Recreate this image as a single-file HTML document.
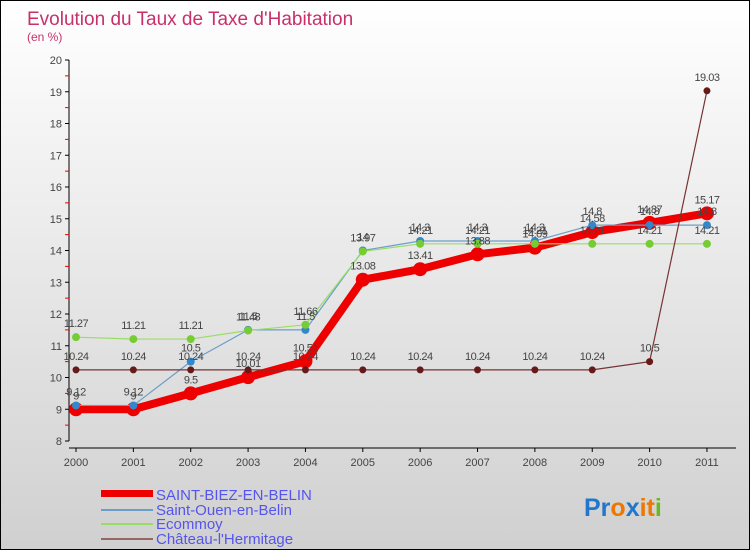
<!DOCTYPE html>
<html><head><meta charset="utf-8"><style>
body{margin:0;}
#wrap{width:750px;height:550px;position:relative;overflow:hidden;box-sizing:border-box;border:1px solid #000;background:linear-gradient(#ffffff,#d0d0d0);font-family:"Liberation Sans",sans-serif;}
svg{position:absolute;left:0;top:0}
</style></head><body>
<div id="wrap">
<svg id="c" width="750" height="550">
<text x="26" y="24" font-size="19" fill="#c8306a">Evolution du Taux de Taxe d'Habitation</text>
<text x="26" y="40" font-size="12" fill="#c8306a">(en %)</text>
<g id="axes"></g><g id="series"></g><g id="labels"></g>
<g>
<rect x="100" y="489" width="52" height="7" fill="#ee0000"/>
<text x="155" y="499" font-size="15" fill="#5555ee">SAINT-BIEZ-EN-BELIN</text>
<rect x="100" y="508" width="52" height="2" fill="#6a9ec8"/>
<text x="155" y="514" font-size="15" fill="#5555ee">Saint-Ouen-en-Belin</text>
<rect x="100" y="522" width="52" height="2" fill="#99dd66"/>
<text x="155" y="528" font-size="15" fill="#5555ee">Ecommoy</text>
<rect x="100" y="537" width="52" height="2" fill="#996666"/>
<text x="155" y="543" font-size="15" fill="#5555ee">Château-l'Hermitage</text>
</g>
<text x="583" y="515" font-size="25" font-weight="bold"><tspan fill="#2277cc">Pr</tspan><tspan fill="#ee7700">o</tspan><tspan fill="#2277cc">x</tspan><tspan fill="#ee7700">it</tspan><tspan fill="#66bb22">i</tspan></text>
</svg>
</div>
<script>
const years=["2000","2001","2002","2003","2004","2005","2006","2007","2008","2009","2010","2011"];
const yTicks=[8,9,10,11,12,13,14,15,16,17,18,19,20];
const saintBiez=[9,9,9.5,10.01,10.51,13.08,13.41,13.88,14.09,14.58,14.87,15.17];
const saintOuen=[9.12,9.12,10.5,11.5,11.5,14,14.3,14.3,14.3,14.8,14.8,14.8];
const ecommoy=[11.27,11.21,11.21,11.48,11.66,13.97,14.21,14.21,14.21,14.21,14.21,14.21];
const chateau=[10.24,10.24,10.24,10.24,10.24,10.24,10.24,10.24,10.24,10.24,10.5,19.03];
const NS="http://www.w3.org/2000/svg";
const xS=i=>75+i*57.36;
const yS=v=>440-(v-8)*31.75;
function mk(t,a,p){const e=document.createElementNS(NS,t);for(const k in a)e.setAttribute(k,a[k]);p.appendChild(e);return e;}
const ax=document.getElementById('axes');
const axisLine=mk('line',{x1:68,x2:68,y1:yS(20),y2:yS(8),stroke:'#000'},ax);


const xLine=mk('line',{x1:68,x2:735,y1:447,y2:447,stroke:'#000'},ax);


yTicks.forEach(v=>{
 mk('line',{x1:64,x2:68,y1:yS(v),y2:yS(v),stroke:'#000'},ax);
 if(v<20) mk('line',{x1:64,x2:68,y1:yS(v+0.5),y2:yS(v+0.5),stroke:'#e00'},ax);
 const t=mk('text',{x:61,y:yS(v)+4,'text-anchor':'end','font-size':11,fill:'#444'},ax);
 t.textContent=v;
 
 
});
years.forEach((y,i)=>{
 mk('line',{x1:xS(i),x2:xS(i),y1:447,y2:451,stroke:'#000'},ax);
 const t=mk('text',{x:xS(i),y:465,'text-anchor':'middle','font-size':11,fill:'#444'},ax);
 t.textContent=y;
 
 
});
const sg=document.getElementById('series'),lg=document.getElementById('labels');
function draw(vals,line,dot,w,r,name){
 const pl=mk('polyline',{points:vals.map((v,i)=>xS(i)+','+yS(v)).join(' '),fill:'none',stroke:line,'stroke-width':w,'stroke-linejoin':'round'},sg);
 
 
 vals.forEach((v,i)=>{
  const c=mk('circle',{cx:xS(i),cy:yS(v),r:r,fill:dot},sg);
  
  
  const t=mk('text',{x:xS(i),y:yS(v)-10,'text-anchor':'middle','font-size':11,fill:'#444','letter-spacing':'-0.5'},lg);
  t.textContent=v;
  
  
 });
}
draw(saintBiez,'#ee0000','#ee0000',8,7,'saint-biez');
draw(saintOuen,'#6a9ec8','#3388cc',1.2,4,'saint-ouen');
draw(ecommoy,'#99dd66','#77cc33',1.2,4,'ecommoy');
draw(chateau,'#773333','#661a1a',1.2,3.5,'chateau');
</script>
</body></html>
